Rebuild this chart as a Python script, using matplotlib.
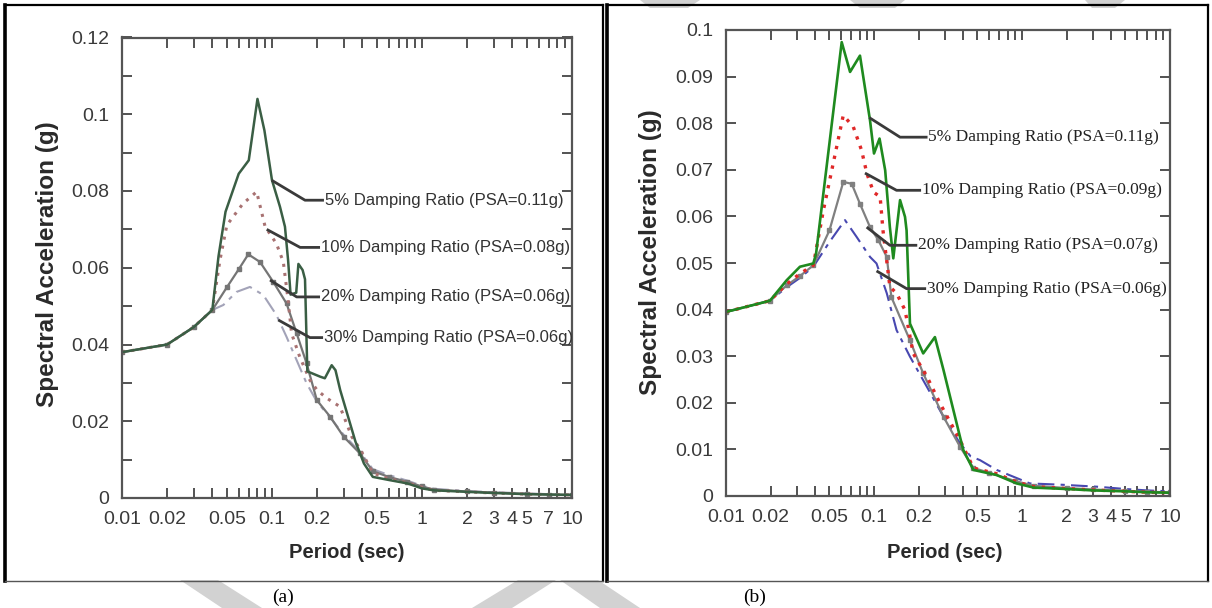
import matplotlib
matplotlib.use("Agg")
import matplotlib.pyplot as plt
from matplotlib.ticker import FixedLocator, FixedFormatter, NullFormatter
from matplotlib.patches import Polygon
from matplotlib.lines import Line2D

# ---------------- data: panel (a) ----------------
a5_x = [0.01, 0.02, 0.03, 0.04, 0.044, 0.049, 0.06, 0.07, 0.08, 0.089, 0.1, 0.113, 0.122, 0.128,
        0.133, 0.145, 0.15, 0.16, 0.166, 0.172, 0.21, 0.225, 0.25, 0.265, 0.285, 0.36, 0.41, 0.47,
        0.6, 0.8, 1.0, 1.2, 2.0, 3.0, 5.0, 7.0, 10.0]
a5_y = [0.038, 0.040, 0.0445, 0.049, 0.063, 0.0746, 0.0845, 0.088, 0.104, 0.0958, 0.0828, 0.0759,
        0.0707, 0.062, 0.053, 0.0535, 0.061, 0.0594, 0.057, 0.033, 0.0316, 0.0312, 0.0346, 0.0333,
        0.0281, 0.0147, 0.009, 0.0055, 0.0047, 0.0038, 0.0025, 0.002, 0.0016, 0.0013, 0.001, 0.0009,
        0.0008]

a10_x = [0.01, 0.02, 0.03, 0.04, 0.045, 0.05, 0.064, 0.079, 0.09, 0.107, 0.119, 0.128, 0.135, 0.153,
         0.179, 0.2, 0.232, 0.284, 0.34, 0.39, 0.47, 0.6, 0.8, 1.0, 1.2, 2.0, 3.0, 5.0, 7.0, 10.0]
a10_y = [0.038, 0.040, 0.0445, 0.049, 0.062, 0.0711, 0.0767, 0.0798, 0.0707, 0.0663, 0.0615, 0.0516,
         0.0429, 0.0368, 0.0307, 0.0281, 0.026, 0.0238, 0.016, 0.0125, 0.0065, 0.005, 0.004, 0.0028,
         0.002, 0.0016, 0.0013, 0.001, 0.0009, 0.0008]

a20_x = [0.01, 0.02, 0.03, 0.04, 0.05, 0.06, 0.0695, 0.0832, 0.102, 0.125, 0.146, 0.17, 0.199, 0.244,
         0.3, 0.386, 0.47, 0.6, 0.8, 1.0, 1.2, 2.0, 3.0, 5.0, 7.0, 10.0]
a20_y = [0.038, 0.040, 0.0445, 0.049, 0.0549, 0.0596, 0.0635, 0.0615, 0.0563, 0.0507, 0.0429, 0.0351,
         0.0255, 0.0212, 0.016, 0.0116, 0.007, 0.0055, 0.0042, 0.003, 0.0022, 0.0017, 0.0014, 0.0011,
         0.0009, 0.0008]

a30_x = [0.01, 0.02, 0.03, 0.04, 0.0474, 0.058, 0.0713, 0.0875, 0.107, 0.125, 0.146, 0.17, 0.2, 0.25,
         0.3, 0.386, 0.47, 0.6, 0.8, 1.0, 1.2, 2.0, 3.0, 5.0, 7.0, 10.0]
a30_y = [0.038, 0.040, 0.0445, 0.049, 0.0503, 0.0537, 0.055, 0.0529, 0.0477, 0.042, 0.0359, 0.0299,
         0.025, 0.0205, 0.0165, 0.012, 0.0075, 0.006, 0.0045, 0.0032, 0.0024, 0.0018, 0.0015, 0.0012,
         0.001, 0.0008]

# ---------------- data: panel (b) ----------------
b5_x = [0.01, 0.0198, 0.0257, 0.0316, 0.0389, 0.0406, 0.0605, 0.0689, 0.0804, 0.094, 0.1, 0.109,
        0.119, 0.128, 0.135, 0.15, 0.162, 0.166, 0.175, 0.215, 0.258, 0.295, 0.381, 0.401, 0.469,
        0.674, 0.92, 1.2, 2.0, 3.0, 5.0, 7.0, 10.0]
b5_y = [0.0395, 0.0419, 0.0463, 0.0492, 0.0499, 0.052, 0.0974, 0.091, 0.0945, 0.0806, 0.0735, 0.0767,
        0.0699, 0.0577, 0.051, 0.0635, 0.0599, 0.057, 0.037, 0.0306, 0.0341, 0.027, 0.0127, 0.0099,
        0.0056, 0.0045, 0.0027, 0.0018, 0.0015, 0.0012, 0.001, 0.0008, 0.0007]

b10_x = [0.01, 0.0198, 0.0257, 0.0316, 0.0389, 0.0455, 0.062, 0.0725, 0.0824, 0.0895, 0.0993, 0.11,
         0.115, 0.128, 0.142, 0.162, 0.184, 0.228, 0.279, 0.381, 0.47, 0.67, 0.92, 1.2, 2.0, 3.0,
         5.0, 7.0, 10.0]
b10_y = [0.0395, 0.0419, 0.0455, 0.0477, 0.0495, 0.0613, 0.0817, 0.0792, 0.0742, 0.0692, 0.0652,
         0.0642, 0.057, 0.0449, 0.0435, 0.0399, 0.0306, 0.0256, 0.0199, 0.012, 0.006, 0.0048, 0.003,
         0.002, 0.0016, 0.0013, 0.001, 0.0008, 0.0007]

b20_x = [0.01, 0.0198, 0.0257, 0.0316, 0.0389, 0.05, 0.062, 0.0707, 0.0804, 0.094, 0.107, 0.122,
         0.131, 0.175, 0.215, 0.295, 0.381, 0.47, 0.6, 0.9, 1.2, 2.0, 3.0, 5.0, 7.0, 10.0]
b20_y = [0.0395, 0.0419, 0.0452, 0.0472, 0.0495, 0.057, 0.0674, 0.067, 0.0627, 0.0577, 0.0549, 0.0513,
         0.0427, 0.0334, 0.0263, 0.017, 0.0106, 0.006, 0.005, 0.0032, 0.0022, 0.0017, 0.0014, 0.0011,
         0.0009, 0.0008]

b30_x = [0.01, 0.0198, 0.0257, 0.0316, 0.0389, 0.05, 0.0637, 0.0763, 0.094, 0.104, 0.122, 0.142,
         0.175, 0.228, 0.295, 0.381, 0.45, 0.52, 0.674, 1.13, 1.9, 3.2, 5.0, 7.0, 10.0]
b30_y = [0.0395, 0.0419, 0.0448, 0.0468, 0.0492, 0.0545, 0.0592, 0.0556, 0.0513, 0.0499, 0.0435,
         0.0356, 0.0299, 0.0234, 0.017, 0.0113, 0.0085, 0.0077, 0.0056, 0.0027, 0.0024, 0.002, 0.0015,
         0.0012, 0.001]

# ---------------- text ----------------
labels_a = ["5% Damping Ratio (PSA=0.11g)", "10% Damping Ratio (PSA=0.08g)",
            "20% Damping Ratio (PSA=0.06g)", "30% Damping Ratio (PSA=0.06g)"]
labels_b = ["5% Damping Ratio (PSA=0.11g)", "10% Damping Ratio (PSA=0.09g)",
            "20% Damping Ratio (PSA=0.07g)", "30% Damping Ratio (PSA=0.06g)"]
xtick_vals = [0.01, 0.02, 0.05, 0.1, 0.2, 0.5, 1, 2, 3, 4, 5, 7, 10]
xtick_labels = ["0.01", "0.02", "0.05", "0.1", "0.2", "0.5", "1", "2", "3", "4", "5", "7", "10"]
yticks_a = [0, 0.02, 0.04, 0.06, 0.08, 0.1, 0.12]
yticklabels_a = ["0", "0.02", "0.04", "0.06", "0.08", "0.1", "0.12"]
yticks_b = [0, 0.01, 0.02, 0.03, 0.04, 0.05, 0.06, 0.07, 0.08, 0.09, 0.1]
yticklabels_b = ["0", "0.01", "0.02", "0.03", "0.04", "0.05", "0.06", "0.07", "0.08", "0.09", "0.1"]

# ---------------- layout ----------------
W, H = 1212, 608
fig = plt.figure(figsize=(W / 100, H / 100), dpi=100)
fig.patch.set_facecolor("white")

def fx(px):
    return px / W

def fy(py):
    return 1 - py / H

# watermark shapes (light grey) behind everything
for pts in [[(180, 580), (218, 580), (262, 608), (222, 608)],
            [(518, 580), (556, 580), (512, 608), (472, 608)],
            [(560, 580), (598, 580), (640, 608), (600, 608)],
            [(640, 0), (700, 0), (688, 8), (650, 8)],
            [(850, 0), (905, 0), (895, 8), (860, 8)],
            [(1085, 0), (1125, 0), (1115, 8), (1092, 8)]]:
    fig.add_artist(Polygon([(fx(x), fy(y)) for x, y in pts], closed=True,
                           facecolor="#d2d2d2", edgecolor="none", transform=fig.transFigure,
                           zorder=0))

# panel frames
def frame(x0, x1, y0, y1):
    fig.add_artist(Line2D([fx(x0), fx(x0)], [fy(y0), fy(y1)], color="black", lw=2.6,
                          transform=fig.transFigure))
    fig.add_artist(Line2D([fx(x0), fx(x1)], [fy(y0), fy(y0)], color="black", lw=1.6,
                          transform=fig.transFigure))
    fig.add_artist(Line2D([fx(x1), fx(x1)], [fy(y0), fy(y1)], color="black", lw=1.6,
                          transform=fig.transFigure))
    fig.add_artist(Line2D([fx(x0), fx(x1)], [fy(y1), fy(y1)], color="#555555", lw=1.0,
                          transform=fig.transFigure))

frame(5, 603, 5, 581)
frame(607, 1208, 5, 581)

axA = fig.add_axes([fx(122), fy(498), 450 / W, 460.5 / H])
axB = fig.add_axes([fx(726), fy(496), 444 / W, 466 / H])

sans = ["Liberation Sans", "DejaVu Sans"]
serif = ["Liberation Serif", "DejaVu Serif"]
tick_color = "#3a3a3a"

def style_axes(ax, ylim, yticks, yticklabels, yminor):
    ax.set_xscale("log")
    ax.set_xlim(0.01, 10)
    ax.set_ylim(*ylim)
    ax.xaxis.set_major_locator(FixedLocator(xtick_vals))
    ax.xaxis.set_major_formatter(FixedFormatter(xtick_labels))
    minors = [m * d for d in (0.01, 0.1, 1) for m in range(2, 10)
              if round(m * d, 4) not in [round(v, 4) for v in xtick_vals]]
    ax.xaxis.set_minor_locator(FixedLocator(minors))
    ax.xaxis.set_minor_formatter(NullFormatter())
    ax.yaxis.set_major_locator(FixedLocator(yticks))
    ax.yaxis.set_major_formatter(FixedFormatter(yticklabels))
    ax.yaxis.set_minor_locator(FixedLocator(yminor))
    ax.tick_params(which="both", direction="in", top=True, right=True, length=7, width=1.3,
                   color="#444444", labelsize=14, labelcolor=tick_color, pad=9)
    for lbl in ax.get_xticklabels() + ax.get_yticklabels():
        lbl.set_fontfamily(sans)
    for sp in ax.spines.values():
        sp.set_color("#555555")
        sp.set_linewidth(1.6)

style_axes(axA, (0, 0.12), yticks_a, yticklabels_a, [0.01, 0.03, 0.05, 0.07, 0.09, 0.11])
style_axes(axB, (0, 0.1), yticks_b, yticklabels_b, [])

# ---- panel (a) curves ----
axA.plot(a30_x, a30_y, color="#a3a3b8", lw=1.5, linestyle=(0, (8, 3, 2, 3)))
axA.plot(a20_x, a20_y, color="#757575", lw=1.6, marker="s", markersize=2.6)
axA.plot(a10_x, a10_y, color="#a87272", lw=2.2, linestyle=(0, (1, 2)))
axA.plot(a5_x, a5_y, color="#3a5e44", lw=1.8)

# ---- panel (b) curves ----
axB.plot(b30_x, b30_y, color="#4848b0", lw=1.5, linestyle=(0, (8, 3, 2, 3)))
axB.plot(b20_x, b20_y, color="#808080", lw=1.6, marker="s", markersize=2.6)
axB.plot(b10_x, b10_y, color="#e02828", lw=2.4, linestyle=(0, (1, 2)))
axB.plot(b5_x, b5_y, color="#1f8a1f", lw=1.9)

# ---- leader lines + labels ----
leaders_a = [((0.0995, 0.0828), (0.166, 0.0776), (0.222, 0.0776), 0.226),
             ((0.0922, 0.0700), (0.154, 0.0653), (0.209, 0.0653), 0.211),
             ((0.0970, 0.0568), (0.146, 0.0524), (0.209, 0.0524), 0.211),
             ((0.1100, 0.0464), (0.179, 0.0418), (0.219, 0.0418), 0.221)]
leaders_b = [((0.0929, 0.0812), (0.150, 0.0770), (0.230, 0.0770), 0.233),
             ((0.0869, 0.0693), (0.142, 0.0656), (0.208, 0.0656), 0.211),
             ((0.0892, 0.0577), (0.128, 0.0538), (0.196, 0.0538), 0.199),
             ((0.1040, 0.0483), (0.166, 0.0445), (0.225, 0.0445), 0.228)]

for (p0, p1, p2, tx), lab in zip(leaders_a, labels_a):
    axA.plot([p0[0], p1[0], p2[0]], [p0[1], p1[1], p2[1]], color="#3a3a3a", lw=2.0,
             solid_capstyle="butt")
    axA.text(tx, p2[1], lab, ha="left", va="center", fontsize=12, family=sans, color="#333333")

for (p0, p1, p2, tx), lab in zip(leaders_b, labels_b):
    axB.plot([p0[0], p1[0], p2[0]], [p0[1], p1[1], p2[1]], color="#3a3a3a", lw=2.0,
             solid_capstyle="butt")
    axB.text(tx, p2[1], lab, ha="left", va="center", fontsize=12.5, family=serif,
             color="#222222")

# axis labels
fig.text(fx(48), fy(264), "Spectral Acceleration (g)", rotation=90, ha="center", va="center",
         fontsize=17.5, fontweight="bold", family=sans, color="#2a2a2a")
fig.text(fx(650), fy(252), "Spectral Acceleration (g)", rotation=90, ha="center", va="center",
         fontsize=17.5, fontweight="bold", family=sans, color="#2a2a2a")
fig.text(fx(347), fy(553), "Period (sec)", ha="center", va="center", fontsize=14.5,
         fontweight="bold", family=sans, color="#2a2a2a")
fig.text(fx(945), fy(553), "Period (sec)", ha="center", va="center", fontsize=14.5,
         fontweight="bold", family=sans, color="#2a2a2a")

fig.text(fx(283), fy(597), "(a)", ha="center", va="center", fontsize=14, family=serif,
         color="black")
fig.text(fx(755), fy(597), "(b)", ha="center", va="center", fontsize=14, family=serif,
         color="black")

fig.savefig("out.png", dpi=100, facecolor="white")
